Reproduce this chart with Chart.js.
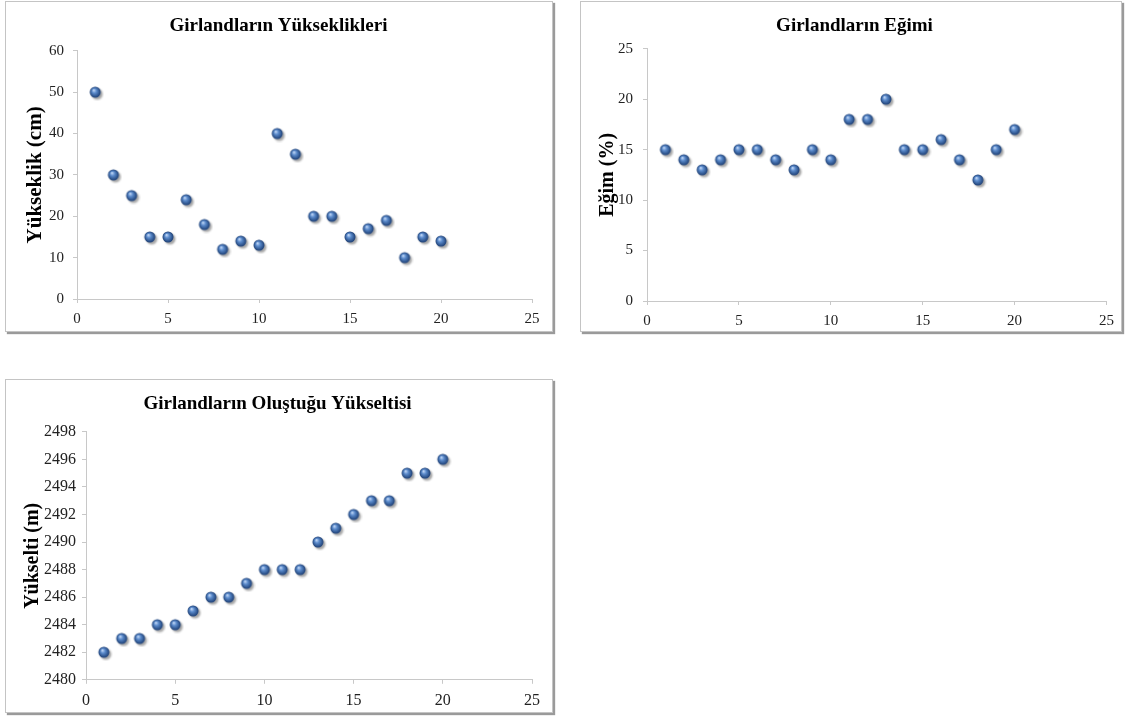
<!doctype html>
<html lang="tr">
<head>
<meta charset="utf-8">
<title>Girlandlar</title>
<style>
  body { margin: 0; background: #fff; width: 1127px; height: 718px; position: relative; overflow: hidden; }
  .box { position: absolute; background: #fff; border: 1px solid #c4c4c4; box-shadow: 2px 2px 1px #9a9a9a; overflow: hidden; }
  .box canvas { display: block; }
</style>
</head>
<body>
<div class="box" style="left:5px; top:1px; width:546px; height:329px;"><canvas id="c1"></canvas></div>
<div class="box" style="left:580px; top:1px; width:540px; height:329px;"><canvas id="c2"></canvas></div>
<div class="box" style="left:5px; top:379px; width:546px; height:332px;"><canvas id="c3"></canvas></div>

<script src="https://cdn.jsdelivr.net/npm/chart.js@4.4.2/dist/chart.umd.min.js"></script>
<script>
  // girland numarası 1..20
  const girlandNo = [1, 2, 3, 4, 5, 6, 7, 8, 9, 10, 11, 12, 13, 14, 15, 16, 17, 18, 19, 20];
  const yukseklik = [50, 30, 25, 15, 15, 24, 18, 12, 14, 13, 40, 35, 20, 20, 15, 17, 19, 10, 15, 14];
  const egim = [15, 14, 13, 14, 15, 15, 14, 13, 15, 14, 18, 18, 20, 15, 15, 16, 14, 12, 15, 17];
  const yukselti = [2482, 2483, 2483, 2484, 2484, 2485, 2486, 2486, 2487, 2488, 2488, 2488, 2490, 2491, 2492, 2493, 2493, 2495, 2495, 2496];

  // küre görünümlü nokta
  function sphere() {
    const c = document.createElement('canvas');
    c.width = 18; c.height = 18;
    const g = c.getContext('2d');
    g.shadowColor = 'rgba(0,0,0,0.35)';
    g.shadowOffsetX = 2; g.shadowOffsetY = 2; g.shadowBlur = 2;
    const grad = g.createRadialGradient(7.5, 7, 0.5, 9, 9, 5.5);
    grad.addColorStop(0, '#b7d0f2');
    grad.addColorStop(0.35, '#5b8bcc');
    grad.addColorStop(1, '#1c3e74');
    g.fillStyle = grad;
    g.beginPath(); g.arc(9, 9, 5.5, 0, Math.PI * 2); g.fill();
    return c;
  }
  const dot = sphere();

  const serif = "'Liberation Serif', 'Times New Roman', serif";

  function makeChart(id, w, h, title, titleGap, yTitle, yTitleSize, yTitleGap, tickSize, tickPad, vals, yMin, yMax, yStep, pad) {
    const cv = document.getElementById(id);
    cv.width = w; cv.height = h;
    new Chart(cv, {
      type: 'scatter',
      data: {
        datasets: [{
          data: girlandNo.map((x, i) => ({ x: x, y: vals[i] })),
          pointStyle: dot
        }]
      },
      options: {
        responsive: false,
        animation: false,
        layout: { padding: pad },
        plugins: {
          legend: { display: false },
          tooltip: { enabled: false },
          title: {
            display: true,
            text: title,
            color: '#000',
            font: { family: serif, size: 19, weight: 'bold' },
            padding: { top: 13, bottom: titleGap }
          }
        },
        scales: {
          x: {
            type: 'linear', min: 0, max: 25,
            ticks: { stepSize: 5, color: '#222', font: { family: serif, size: tickSize }, padding: 7 },
            grid: { drawOnChartArea: false, tickLength: 4, color: '#c8c8c8' },
            border: { color: '#c8c8c8' }
          },
          y: {
            min: yMin, max: yMax,
            ticks: {
              stepSize: yStep, color: '#222', font: { family: serif, size: tickSize }, padding: tickPad,
              callback: v => String(v)
            },
            grid: { drawOnChartArea: false, tickLength: 4, color: '#c8c8c8' },
            border: { color: '#c8c8c8' },
            title: {
              display: true, text: yTitle, color: '#000',
              font: { family: serif, size: yTitleSize, weight: 'bold', lineHeight: 1 },
              padding: { top: 0, bottom: yTitleGap }
            }
          }
        }
      }
    });
  }

  makeChart('c1', 546, 333, 'Girlandların Yükseklikleri', 13, 'Yükseklik (cm)', 21, -6, 15, 9, yukseklik, 0, 60, 10,
    { left: 19, right: 20, top: 0, bottom: 0 });
  makeChart('c2', 540, 335, 'Girlandların Eğimi', 11, 'Eğim (%)', 20, -10, 15, 10, egim, 0, 25, 5,
    { left: 17, right: 10, top: 0, bottom: 0 });
  makeChart('c3', 546, 337, 'Girlandların Oluştuğu Yükseltisi', 16, 'Yükselti (m)', 20, -5, 16, 6, yukselti, 2480, 2498, 2,
    { left: 17, right: 20, top: 0, bottom: 0 });
</script>
</body>
</html>
